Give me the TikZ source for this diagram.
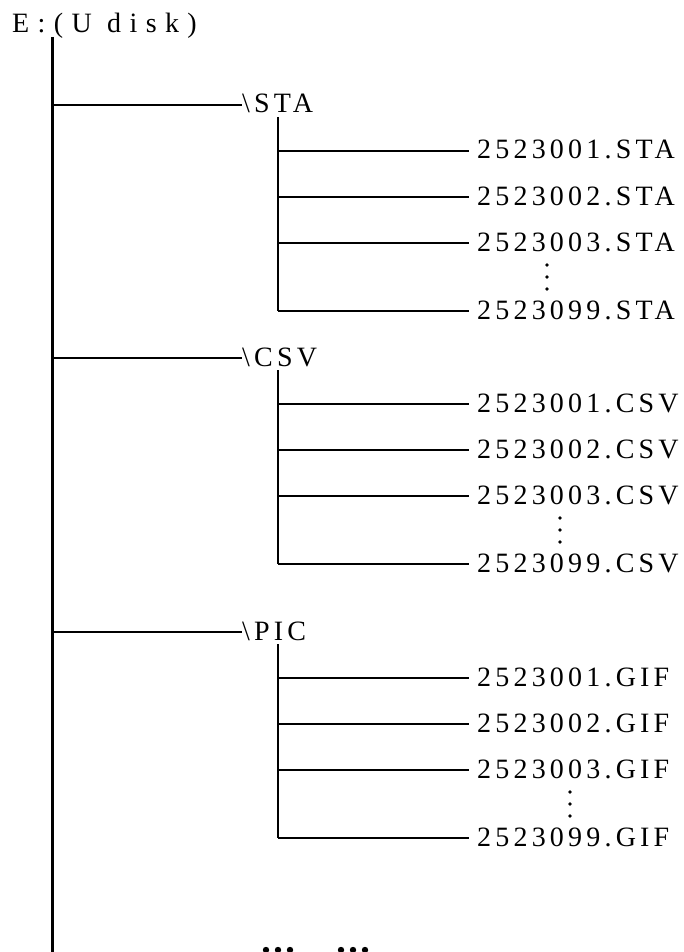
\documentclass[tikz,border=0pt]{standalone}
\usepackage{fontspec}
\newfontfamily\treefont{Liberation Serif}[LetterSpace=15]
\newfontfamily\rootfont{Liberation Serif}[LetterSpace=30]
\usetikzlibrary{calc}

\tikzset{
  label text/.style={font=\treefont\fontsize{28}{28}\selectfont, inner ysep=0pt, anchor=base west},
  root text/.style={label text, font=\rootfont\fontsize{28}{28}\selectfont, inner xsep=0pt},
  dir text/.style={label text, inner xsep=0pt},
  file text/.style={label text, inner xsep=8pt},
  trunk/.style={line width=3pt},
  subtrunk/.style={line width=2.4pt},
  branch/.style={line width=2pt}
}

\begin{document}
\begin{tikzpicture}[x=1pt, y=-1pt]
  \useasboundingbox (0,0) rectangle (684,952);
  \node[root text] (root) at (12,33) {E:(U disk)};
  \coordinate (trunk top) at (52,37);
  \coordinate (trunk end) at (52,952);
  \draw[trunk] (trunk top) -- (trunk end);
  % one folder per entry: name / y of branch / file type / x of the dots
  \foreach \dir/\y/\ext/\dx in {STA/105/STA/547, CSV/358/CSV/560, PIC/632/GIF/570}{
    \node[dir text] (\dir) at (242,\y+8) {\textbackslash\dir};
    \coordinate (\dir br) at (52,\y);
    \draw[branch] (\dir br) -- (\dir br -| \dir.west);
    \coordinate (\dir top) at (278,\y+12);
    \coordinate (\dir bot) at (278,\y+206);
    \draw[subtrunk] (\dir top) -- (\dir bot);
    \foreach \num/\dy in {001/46, 002/92, 003/138, 099/206}{
      \node[file text] (\dir\num) at (469,\y+\dy+8) {2523\num.\ext};
      \coordinate (\dir\num br) at (278,\y+\dy);
      \draw[branch] (\dir\num br) -- (\dir\num br -| \dir\num.west);
    }
    \foreach \k in {-12,0,12}
      \fill (\dx,\y+172+\k) circle (1.8);
  }
  % dots cut off at the bottom
  \foreach \dx in {266,278,290,341,353,365}
    \fill (\dx,950) circle (3.2);
\end{tikzpicture}
\end{document}
